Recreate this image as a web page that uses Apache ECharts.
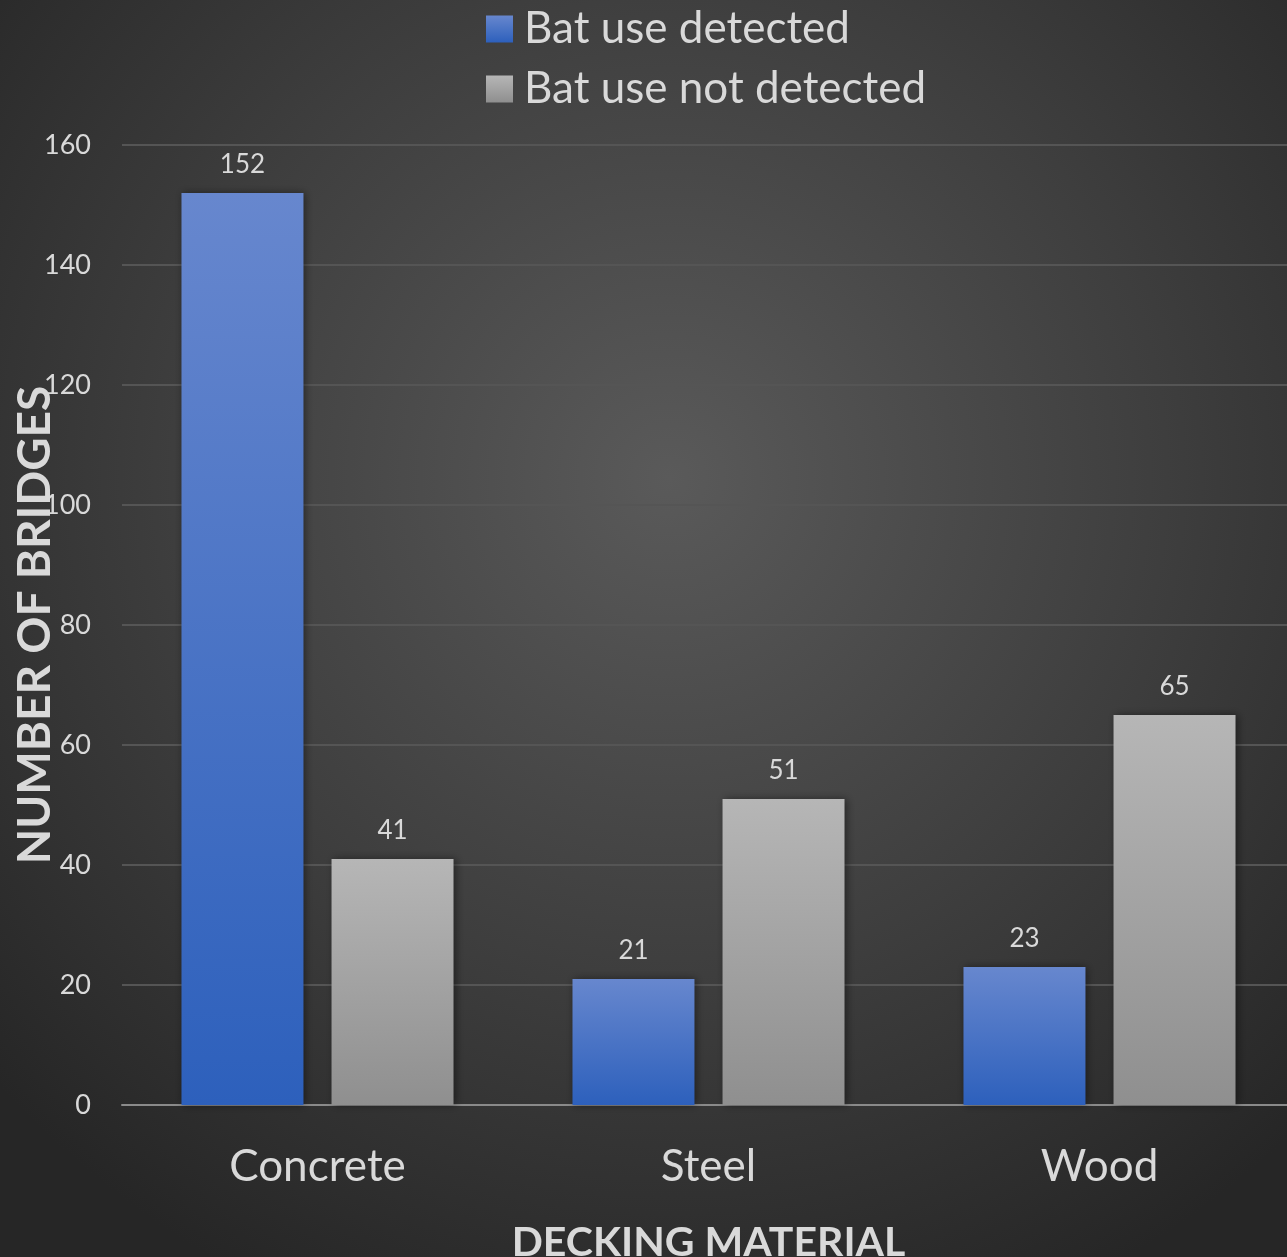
<!DOCTYPE html>
<html>
<head>
<meta charset="utf-8">
<style>
  html, body { margin: 0; padding: 0; background: #2a2a2a; }
  #chart { width: 1287px; height: 1257px; }
</style>
<script src="https://cdn.jsdelivr.net/npm/echarts@6/dist/echarts.min.js"></script>
</head>
<body>
<div id="chart"></div>
<script>
// Bridges surveyed, grouped by decking material
const categories = ['Concrete', 'Steel', 'Wood'];
const detected = [152, 21, 23];
const notDetected = [41, 51, 65];
const yTicks = [0, 20, 40, 60, 80, 100, 120, 140, 160];

const FONT = 'Lato, "Open Sans", sans-serif';
const TEXT = '#d9d9d9';

function vGrad(top, bottom) {
  return new echarts.graphic.LinearGradient(0, 0, 0, 1, [
    { offset: 0, color: top },
    { offset: 1, color: bottom }
  ]);
}

const blueFill = vGrad('#6787ce', '#2d60bc');
const greyFill = vGrad('#b6b6b6', '#8f8f8f');

const chart = echarts.init(document.getElementById('chart'), null, { renderer: 'canvas' });

const barLabel = {
  show: true,
  position: 'top',
  distance: 15,
  color: TEXT,
  fontFamily: FONT,
  fontSize: 26
};

chart.setOption({
  backgroundColor: {
    type: 'radial', x: 0.52, y: 0.38, r: 0.72,
    colorStops: [
      { offset: 0, color: '#5a5a5a' },
      { offset: 0.55, color: '#3e3e3e' },
      { offset: 1, color: '#262626' }
    ]
  },
  animation: false,
  legend: {
    orient: 'vertical',
    left: 481,
    top: 2,
    itemWidth: 27,
    itemHeight: 27,
    itemGap: 16,
    icon: 'rect',
    textStyle: { color: TEXT, fontFamily: FONT, fontSize: 44, padding: [0, 0, 0, 6] },
    data: ['Bat use detected', 'Bat use not detected']
  },
  grid: { left: 122, right: -8, top: 145, bottom: 152, containLabel: false, outerBoundsMode: 'none' },
  xAxis: {
    type: 'category',
    data: categories,
    name: 'DECKING MATERIAL',
    nameLocation: 'middle',
    nameGap: 117,
    nameMoveOverlap: false,
    nameTextStyle: { color: TEXT, fontFamily: FONT, fontSize: 41, fontWeight: 'bold' },
    axisLine: { lineStyle: { color: '#8a8a8a', width: 2 } },
    axisTick: { show: false },
    axisLabel: { color: TEXT, fontFamily: FONT, fontSize: 44, margin: 40 }
  },
  yAxis: {
    type: 'value',
    min: yTicks[0],
    max: yTicks[yTicks.length - 1],
    interval: yTicks[1] - yTicks[0],
    name: 'NUMBER OF BRIDGES',
    nameLocation: 'middle',
    nameRotate: 90,
    nameGap: 64,
    nameMoveOverlap: false,
    nameTextStyle: { color: TEXT, fontFamily: FONT, fontSize: 46, fontWeight: 'bold' },
    axisLine: { show: false },
    axisTick: { show: false },
    axisLabel: { color: TEXT, fontFamily: FONT, fontSize: 27, margin: 31 },
    splitLine: { lineStyle: { color: '#555555', width: 2 } }
  },
  series: [
    {
      name: 'Bat use detected',
      type: 'bar',
      data: detected,
      barWidth: '31.2%',
      barGap: '23%',
      itemStyle: {
        color: blueFill,
        shadowColor: 'rgba(0,0,0,0.45)',
        shadowBlur: 8,
        shadowOffsetX: 2
      },
      label: barLabel
    },
    {
      name: 'Bat use not detected',
      type: 'bar',
      data: notDetected,
      barWidth: '31.2%',
      barGap: '23%',
      itemStyle: {
        color: greyFill,
        shadowColor: 'rgba(0,0,0,0.45)',
        shadowBlur: 8,
        shadowOffsetX: 2
      },
      label: barLabel
    }
  ]
});
</script>
</body>
</html>
